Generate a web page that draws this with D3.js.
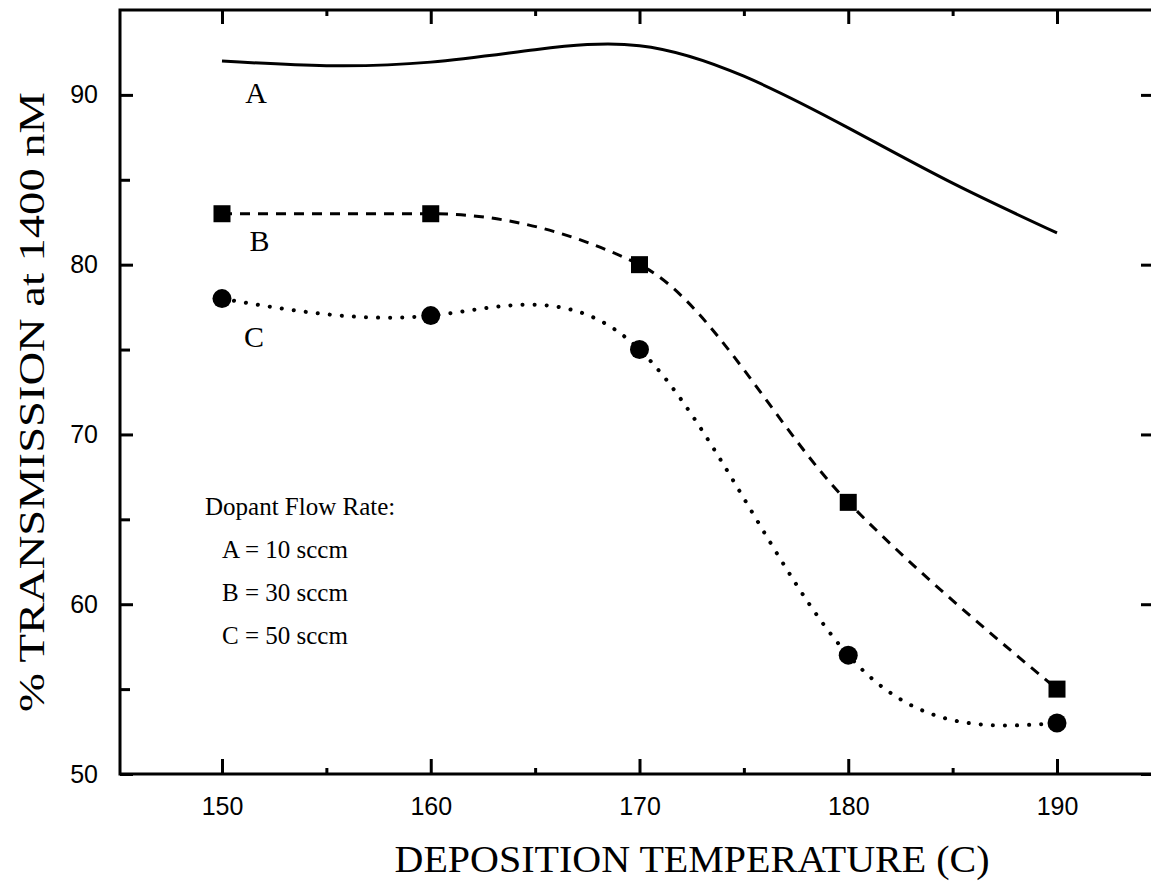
<!DOCTYPE html>
<html>
<head>
    <meta charset="UTF-8">
    <title>Transmission vs deposition temperature</title>
    <style>
        body { margin: 0; background: #fff; }
        svg { display: block; }
        .tick text { font-family: "Liberation Sans", Arial, sans-serif; font-size: 25px; fill: #000; }
        .serif { font-family: "Liberation Serif", "Times New Roman", serif; fill: #000; }
    </style>
    <script src="https://cdn.jsdelivr.net/npm/d3@7/dist/d3.min.js"></script>
</head>
<body>
<svg id="chart" width="1151" height="890"></svg>
<script>
// temperatures (C) where the samples were measured
var temps = [150, 160, 170, 180, 190]
// curve A has no markers
var tempsA = [150, 155, 160, 165, 170, 175, 180, 185, 190]
var seriesA = [92.0, 91.72, 91.93, 92.66, 92.9, 91.1, 88.06, 84.8, 81.87]
var seriesB = [83, 83, 80, 66, 55]
var seriesC = [78, 77, 75, 57, 53]
var xTicks = [150, 160, 170, 180, 190]
var xMinor = [155, 165, 175, 185]
var yTicks = [50, 60, 70, 80, 90]
var yMinor = [55, 65, 75, 85]
var legendLines = ["Dopant Flow Rate:", "A = 10 sccm", "B = 30 sccm", "C = 50 sccm"]
var curveLabels = [
    { text: "A", t: 151.63, v: 89.53 },
    { text: "B", t: 151.8, v: 80.81 },
    { text: "C", t: 151.53, v: 75.15 }
]

var svg = d3.select("#chart")
// note: "top" is taken by window.top, so short names here
var pL = 120, pR = 1150, pT = 10, pB = 774

var x = d3.scaleLinear().domain([145.114, 194.455]).range([pL, pR])
var y = d3.scaleLinear().domain([50, 95]).range([pB, pT])

var nofmt = function () { return "" }

// frame ticks point inward; majors longer than minors
function ticks(g, axisFn, vals, len, fmt, pad) {
    g.call(axisFn.tickValues(vals).tickSizeInner(-len).tickSizeOuter(0).tickPadding(pad).tickFormat(fmt))
    g.select(".domain").remove()
    g.selectAll(".tick line").attr("stroke", "#000").attr("stroke-width", 3)
}

var gB = svg.append("g").attr("transform", "translate(0," + pB + ")")
ticks(gB, d3.axisBottom(x), xTicks, 15, d3.format("d"), 23)
var gBm = svg.append("g").attr("transform", "translate(0," + pB + ")")
ticks(gBm, d3.axisBottom(x), xMinor, 6, nofmt, 0)

var gT = svg.append("g").attr("transform", "translate(0," + pT + ")")
ticks(gT, d3.axisTop(x), xTicks, 14, nofmt, 0)
var gTm = svg.append("g").attr("transform", "translate(0," + pT + ")")
ticks(gTm, d3.axisTop(x), xMinor, 6, nofmt, 0)

var gL = svg.append("g").attr("transform", "translate(" + pL + ",0)")
ticks(gL, d3.axisLeft(y), yTicks, 13, d3.format("d"), 22)
var gLm = svg.append("g").attr("transform", "translate(" + pL + ",0)")
ticks(gLm, d3.axisLeft(y), yMinor, 10, nofmt, 0)

var gR = svg.append("g").attr("transform", "translate(1153,0)")
ticks(gR, d3.axisRight(y), yTicks, 12, nofmt, 0)

// frame
svg.append("path")
    .attr("d", "M" + pR + "," + pT + "H" + pL + "V" + pB + "H" + pR)
    .attr("fill", "none").attr("stroke", "#000").attr("stroke-width", 3)
    .attr("stroke-linecap", "square")

var line = function (curve) {
    return d3.line().x(function (d) { return x(d[0]) }).y(function (d) { return y(d[1]) }).curve(curve)
}

svg.append("path")
    .attr("d", line(d3.curveNatural)(d3.zip(tempsA, seriesA)))
    .attr("fill", "none").attr("stroke", "#000").attr("stroke-width", 3)

svg.append("path")
    .attr("d", line(d3.curveMonotoneX)(d3.zip(temps, seriesB)))
    .attr("fill", "none").attr("stroke", "#000").attr("stroke-width", 3)
    .attr("stroke-dasharray", "10 8")

svg.append("path")
    .attr("d", line(d3.curveNatural)(d3.zip(temps, seriesC)))
    .attr("fill", "none").attr("stroke", "#000").attr("stroke-width", 4)
    .attr("stroke-linecap", "round").attr("stroke-dasharray", "0.1 12")

svg.selectAll(".sq").data(d3.zip(temps, seriesB)).enter().append("rect")
    .attr("x", function (d) { return x(d[0]) - 8.5 })
    .attr("y", function (d) { return y(d[1]) - 8.5 })
    .attr("width", 17).attr("height", 17).attr("fill", "#000")

svg.selectAll(".dot").data(d3.zip(temps, seriesC)).enter().append("circle")
    .attr("cx", function (d) { return x(d[0]) })
    .attr("cy", function (d) { return y(d[1]) })
    .attr("r", 9.5).attr("fill", "#000")

svg.selectAll(".lbl").data(curveLabels).enter().append("text")
    .attr("class", "serif")
    .attr("x", function (d) { return x(d.t) })
    .attr("y", function (d) { return y(d.v) })
    .attr("text-anchor", "middle")
    .style("font-size", "30px")
    .text(function (d) { return d.text })

var leg = svg.append("g").attr("transform", "translate(205,515)")
leg.selectAll("text").data(legendLines).enter().append("text")
    .attr("class", "serif")
    .attr("x", function (d, i) { return i ? 17 : 0 })
    .attr("y", function (d, i) { return i * 43 })
    .style("font-size", "25px")
    .text(function (d) { return d })

svg.append("text").attr("class", "serif")
    .attr("x", 692).attr("y", 872)
    .attr("text-anchor", "middle")
    .style("font-size", "38px")
    .attr("textLength", 595).attr("lengthAdjust", "spacingAndGlyphs")
    .text("DEPOSITION TEMPERATURE (C)")

svg.append("text").attr("class", "serif")
    .attr("transform", "translate(44,402) rotate(-90)")
    .attr("text-anchor", "middle")
    .style("font-size", "36px")
    .attr("textLength", 620).attr("lengthAdjust", "spacingAndGlyphs")
    .text("% TRANSMISSION at 1400 nM")
</script>
</body>
</html>
